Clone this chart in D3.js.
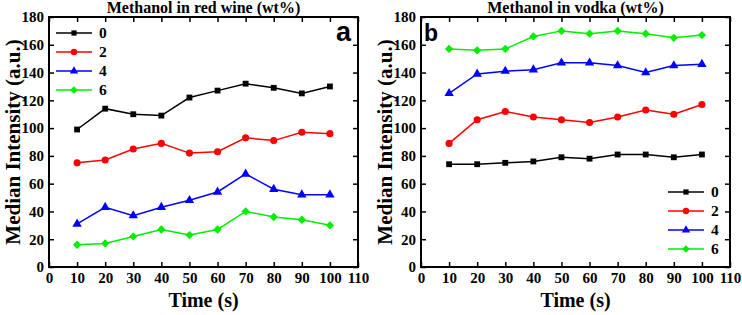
<!DOCTYPE html>
<html>
<head>
<meta charset="utf-8">
<script src="https://cdn.jsdelivr.net/npm/d3@7"></script>
<style>
  body { margin: 0; background: #fff; }
  svg text { font-family: "Liberation Serif", "Times New Roman", serif; font-weight: bold; }
</style>
</head>
<body>
<div id="chart"></div>
<script>
const times = [10, 20, 30, 40, 50, 60, 70, 80, 90, 100];
const levels = ["0", "2", "4", "6"];
const xTicks = [0, 10, 20, 30, 40, 50, 60, 70, 80, 90, 100, 110];
const yTicks = [0, 20, 40, 60, 80, 100, 120, 140, 160, 180];

// red wine, one array per methanol level
const wine0 = [99, 114, 110, 109, 122, 127, 132, 129, 125, 130];
const wine2 = [75, 77, 85, 89, 82, 83, 93, 91, 97, 96];
const wine4 = [31, 43, 37, 43, 48, 54, 67, 56, 52, 52];
const wine6 = [16, 17, 22, 27, 23, 27, 40, 36, 34, 30];

// vodka
const vodka0 = [74, 74, 75, 76, 79, 78, 81, 81, 79, 81];
const vodka2 = [89, 106, 112, 108, 106, 104, 108, 113, 110, 117];
const vodka4 = [125, 139, 141, 142, 147, 147, 145, 140, 145, 146];
const vodka6 = [157, 156, 157, 166, 170, 168, 170, 168, 165, 167];

const colors = ["#000000", "#ff0000", "#0000ff", "#00ee00"];
const shapes = [d3.symbolSquare, d3.symbolCircle, d3.symbolTriangle, d3.symbolDiamond2];
const sizes = [34, 40, 38, 44];

const panels = [
  {title: "Methanol in red wine (wt%)", letter: "a", series: [wine0, wine2, wine4, wine6],
   left: 49, legend: {x: 56, y: 33}, letterX: 351, letterAnchor: "end", letterSize: 27},
  {title: "Methanol in vodka (wt%)", letter: "b", series: [vodka0, vodka2, vodka4, vodka6],
   left: 421, legend: {x: 668, y: 192}, letterX: 424, letterAnchor: "start", letterSize: 23}
];

const W = 742, H = 315;
const pw = 309, plotTop = 17, plotBottom = 267;

const svg = d3.select("#chart").append("svg")
  .attr("width", W).attr("height", H);

panels.forEach(p => {
  const x = d3.scaleLinear().domain([0, 110]).range([p.left, p.left + pw]);
  const y = d3.scaleLinear().domain([0, 180]).range([plotBottom, plotTop]);
  const g = svg.append("g");

  // inward ticks on all four sides
  const tk = 5;
  g.append("g").attr("transform", `translate(0,${plotBottom})`)
    .call(d3.axisBottom(x).tickValues(xTicks).tickSize(-tk).tickPadding(5).tickFormat(d3.format("d")))
    .call(a => a.select(".domain").remove());
  g.append("g").attr("transform", `translate(0,${plotTop})`)
    .call(d3.axisTop(x).tickValues(xTicks).tickSize(-tk).tickFormat(""))
    .call(a => a.select(".domain").remove());
  g.append("g").attr("transform", `translate(${p.left},0)`)
    .call(d3.axisLeft(y).tickValues(yTicks).tickSize(-tk).tickPadding(5).tickFormat(d3.format("d")))
    .call(a => a.select(".domain").remove());
  g.append("g").attr("transform", `translate(${p.left + pw},0)`)
    .call(d3.axisRight(y).tickValues(yTicks).tickSize(-tk).tickFormat(""))
    .call(a => a.select(".domain").remove());
  g.selectAll(".tick line").attr("stroke", "#000").attr("stroke-width", 1.5);
  g.selectAll(".tick text").attr("font-size", 15).attr("fill", "#000");

  g.append("rect")
    .attr("x", p.left).attr("y", plotTop).attr("width", pw).attr("height", plotBottom - plotTop)
    .attr("fill", "none").attr("stroke", "#000").attr("stroke-width", 2);

  const line = d3.line().x((d, i) => x(times[i])).y(d => y(d));
  p.series.forEach((s, k) => {
    g.append("path").datum(s).attr("d", line)
      .attr("fill", "none").attr("stroke", colors[k]).attr("stroke-width", 1.5);
    g.selectAll(null).data(s).join("path")
      .attr("transform", (d, i) => `translate(${x(times[i])},${y(d)})`)
      .attr("d", d3.symbol(shapes[k], sizes[k]))
      .attr("fill", colors[k]);
  });

  // legend
  levels.forEach((lv, k) => {
    const ly = p.legend.y + k * 19;
    g.append("line").attr("x1", p.legend.x).attr("x2", p.legend.x + 36)
      .attr("y1", ly).attr("y2", ly).attr("stroke", colors[k]).attr("stroke-width", 1.5);
    g.append("path").attr("transform", `translate(${p.legend.x + 18},${ly})`)
      .attr("d", d3.symbol(shapes[k], sizes[k] * 0.8)).attr("fill", colors[k]);
    g.append("text").attr("x", p.legend.x + 43).attr("y", ly + 5)
      .attr("font-size", 15.5).text(lv);
  });

  g.append("text").attr("x", p.left + pw / 2).attr("y", 13)
    .attr("text-anchor", "middle").attr("font-size", 16).text(p.title);

  g.append("text").attr("x", p.letterX).attr("y", 41)
    .attr("text-anchor", p.letterAnchor)
    .style("font-family", "Liberation Sans, Arial, sans-serif")
    .attr("font-size", p.letterSize).text(p.letter);

  g.append("text").attr("x", p.left + pw / 2).attr("y", 307)
    .attr("text-anchor", "middle").attr("font-size", 20).text("Time (s)");

  g.append("text")
    .attr("transform", `translate(${p.left - 29},${(plotTop + plotBottom) / 2}) rotate(-90)`)
    .attr("text-anchor", "middle").attr("font-size", 21).text("Median Intensity (a.u.)");
});
</script>
</body>
</html>
